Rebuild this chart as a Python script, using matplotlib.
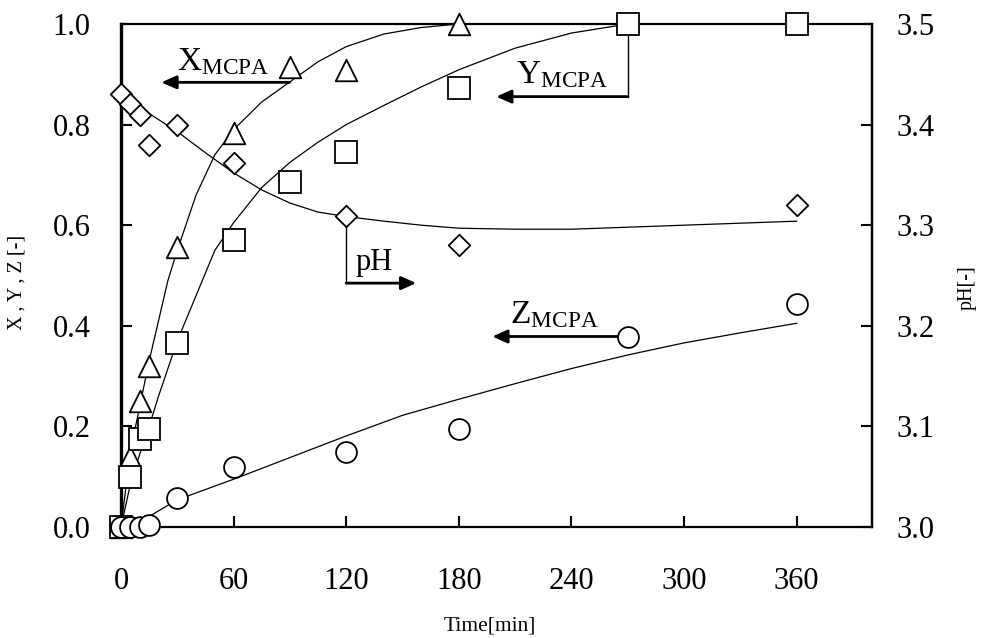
import matplotlib
matplotlib.use("Agg")
import matplotlib.pyplot as plt
from matplotlib.path import Path

plt.rcParams['font.family'] = ['Liberation Serif', 'DejaVu Serif']
plt.rcParams['mathtext.fontset'] = 'custom'
plt.rcParams['mathtext.rm'] = 'Liberation Serif'
plt.rcParams['mathtext.it'] = 'Liberation Serif:italic'

# measured points
t_x = [0, 5, 10, 15, 30, 60, 90, 120, 180]
x_obs = [0.0, 0.14, 0.25, 0.32, 0.557, 0.783, 0.915, 0.909, 1.0]

t_y = [0, 5, 10, 15, 30, 60, 90, 120, 180, 270, 360]
y_obs = [0.0, 0.10, 0.175, 0.195, 0.365, 0.57, 0.685, 0.746, 0.872, 1.0, 1.0]

t_z = [0, 5, 10, 15, 30, 60, 120, 180, 270, 360]
z_obs = [0.0, 0.0, 0.0, 0.004, 0.058, 0.12, 0.149, 0.195, 0.377, 0.444]

t_ph = [0, 5, 10, 15, 30, 60, 120, 180, 360]
ph_obs = [3.43, 3.42, 3.41, 3.38, 3.40, 3.362, 3.309, 3.28, 3.32]

# model curves
t_x_fit = [0, 5, 10, 15, 20, 25, 30, 40, 50, 60, 75, 90, 105, 120, 140, 160, 180]
x_fit = [0, 0.15, 0.24, 0.33, 0.41, 0.49, 0.55, 0.66, 0.74, 0.79, 0.845, 0.885,
         0.925, 0.955, 0.98, 0.993, 1.0]

t_y_fit = [0, 5, 10, 15, 20, 30, 40, 50, 60, 75, 90, 105, 120, 140, 160, 180,
           210, 240, 270]
y_fit = [0, 0.085, 0.145, 0.2, 0.26, 0.37, 0.46, 0.55, 0.605, 0.675, 0.725,
         0.765, 0.80, 0.838, 0.875, 0.909, 0.952, 0.982, 1.0]

t_z_fit = [0, 5, 10, 15, 30, 60, 90, 120, 150, 180, 210, 240, 270, 300, 330, 360]
z_fit = [0, 0.007, 0.014, 0.021, 0.054, 0.095, 0.138, 0.181, 0.222, 0.254,
         0.285, 0.315, 0.342, 0.366, 0.386, 0.405]

t_ph_fit = [0, 5, 10, 15, 30, 45, 60, 75, 90, 105, 120, 140, 160, 180, 210,
            240, 270, 300, 330, 360]
ph_fit = [3.43, 3.424, 3.418, 3.411, 3.393, 3.372, 3.352, 3.335, 3.322, 3.313,
          3.3086, 3.304, 3.300, 3.297, 3.296, 3.296, 3.298, 3.300, 3.302, 3.304]

x_ticks = [0, 60, 120, 180, 240, 300, 360]
y_ticks = [0.0, 0.2, 0.4, 0.6, 0.8, 1.0]
ph_ticks = [3.0, 3.1, 3.2, 3.3, 3.4, 3.5]

tri = Path([(-1, -1), (1, -1), (0, 1), (-1, -1)], closed=True)
dia = Path([(0, 1), (1, 0), (0, -1), (-1, 0), (0, 1)], closed=True)

fig = plt.figure(figsize=(9.82, 6.38), dpi=100)
ax = fig.add_axes([0.1232, 0.174, 0.7646, 0.7884])
ax2 = ax.twinx()

mk = dict(ls='none', mfc='white', mec='black', mew=1.3, clip_on=False, zorder=5)
ax.plot(t_x_fit, x_fit, color='black', lw=0.9, zorder=3)
ax.plot(t_y_fit, y_fit, color='black', lw=0.9, zorder=3)
ax.plot(t_z_fit, z_fit, color='black', lw=0.9, zorder=3)
ax.plot(t_x, x_obs, marker=tri, ms=15.5, **mk)
ax.plot(t_y, y_obs, marker='s', ms=15.5, **mk)
ax.plot(t_z, z_obs, marker='o', ms=15, **mk)

ax2.plot(t_ph_fit, ph_fit, color='black', lw=0.9, zorder=3)
ax2.plot(t_ph, ph_obs, marker=dia, ms=15.5, **mk)

ax.set_xlim(0, 400)
ax.set_ylim(0, 1)
ax2.set_ylim(3.0, 3.5)
ax.set_xticks(x_ticks)
ax.set_yticks(y_ticks)
ax.set_yticklabels([f"{v:.1f}" for v in y_ticks])
ax2.set_yticks(ph_ticks)
ax2.set_yticklabels([f"{v:.1f}" for v in ph_ticks])

ax.tick_params(axis='x', direction='in', length=8, width=1.5, labelsize=22, pad=29)
ax.tick_params(axis='y', direction='in', length=8, width=1.5, labelsize=22, pad=22)
ax2.tick_params(axis='y', direction='in', length=8, width=1.5, labelsize=22, pad=18)

for s in ax.spines.values():
    s.set_linewidth(1.6)
ax.spines['left'].set_linewidth(2.4)
for s in ['left', 'top', 'bottom']:
    ax2.spines[s].set_visible(False)
ax2.spines['right'].set_linewidth(1.6)

ax.set_xlabel('Time[min]', fontsize=15.5)
ax.xaxis.set_label_coords(0.491, -0.178)
ax.set_ylabel('X , Y , Z [-]', fontsize=14.5)
ax.yaxis.set_label_coords(-0.126, 0.487)
ax2.set_ylabel('pH[-]', fontsize=14.5)
ax2.yaxis.set_label_coords(1.115, 0.475)

arr = dict(arrowstyle='-|>,head_length=0.45,head_width=0.2', lw=2.0, color='black',
           shrinkA=0, shrinkB=0, mutation_scale=20)

# X label
ax.annotate('', xy=(21.5, 0.884), xytext=(89.8, 0.884), arrowprops=arr, zorder=4)
ax.text(29.8, 0.909, r'X$_{\mathrm{MCPA}}$', fontsize=24, ha='left', va='baseline')

# Y label
ax.plot([270, 270], [1.0, 0.8556], color='black', lw=1.0, zorder=3)
ax.annotate('', xy=(199.9, 0.8556), xytext=(270, 0.8556), arrowprops=arr, zorder=4)
ax.text(210.5, 0.882, r'Y$_{\mathrm{MCPA}}$', fontsize=24, ha='left', va='baseline')

# Z label
ax.annotate('', xy=(197.8, 0.3787), xytext=(266, 0.3787), arrowprops=arr, zorder=4)
ax.text(207, 0.405, r'Z$_{\mathrm{MCPA}}$', fontsize=24, ha='left', va='baseline')

# pH label
ax2.plot([120, 120], [3.3086, 3.2424], color='black', lw=1.0, zorder=3)
ax2.annotate('', xy=(157.3, 3.2424), xytext=(120, 3.2424), arrowprops=arr, zorder=4)
ax2.text(125, 3.2556, 'pH', fontsize=22, ha='left', va='baseline')

fig.savefig('out.png', dpi=100)
